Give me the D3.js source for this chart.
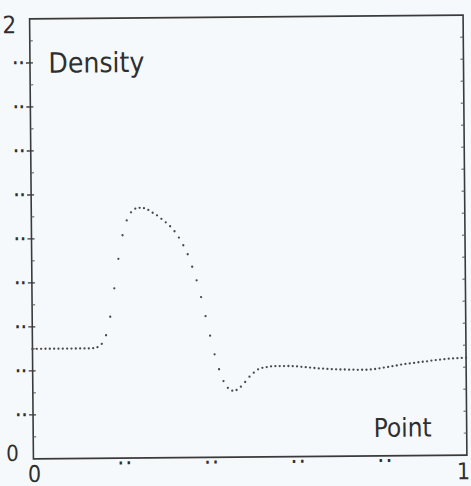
<!DOCTYPE html>
<html>
<head>
<meta charset="utf-8">
<script src="https://cdn.jsdelivr.net/npm/d3@7"></script>
<style>
  html, body { margin: 0; padding: 0; background: #f6f9fb; }
  svg { display: block; }
  text { font-family: 'DejaVu Sans Condensed', 'DejaVu Sans', sans-serif; font-stretch: condensed; fill: #2f2f2f; }
</style>
</head>
<body>
<svg id="chart" width="471" height="486"></svg>
<script>
// ---- data ----
const points = d3.range(0, 101).map(i => i / 100); // x positions 0..1 step 0.01
const density = [
  0.500, 0.500, 0.500, 0.500, 0.500, 0.500, 0.500, 0.500, 0.500, 0.500,
  0.500, 0.500, 0.500, 0.500, 0.501, 0.505, 0.520, 0.559, 0.643, 0.772,
  0.906, 1.013, 1.080, 1.117, 1.133, 1.137, 1.135, 1.127, 1.114, 1.102,
  1.086, 1.070, 1.052, 1.029, 1.000, 0.965, 0.924, 0.867, 0.805, 0.729,
  0.642, 0.553, 0.468, 0.400, 0.346, 0.315, 0.302, 0.305, 0.320, 0.341,
  0.365, 0.383, 0.398, 0.405, 0.408, 0.411, 0.412, 0.412, 0.412, 0.412,
  0.411, 0.410, 0.408, 0.406, 0.404, 0.402, 0.400, 0.399, 0.397, 0.396,
  0.395, 0.394, 0.394, 0.393, 0.393, 0.392, 0.392, 0.392, 0.393, 0.395,
  0.398, 0.401, 0.404, 0.407, 0.410, 0.414, 0.417, 0.419, 0.421, 0.424,
  0.426, 0.428, 0.431, 0.433, 0.435, 0.437, 0.439, 0.440, 0.441, 0.442,
  0.443
];
const yMajorTicks = [0.2, 0.4, 0.6, 0.8, 1.0, 1.2, 1.4, 1.6, 1.8];
const yMinorTicks = [0.1, 0.3, 0.5, 0.7, 0.9, 1.1, 1.3, 1.5, 1.7, 1.9];
const xMajorTicks = [0.2, 0.4, 0.6, 0.8];
const tickLabel = "··";          // the scanned tick labels read only as dots
const yEndLabels = ["0", "2"];
const xEndLabels = ["0", "1"];
const yTitle = "Density";
const xTitle = "Point";

// ---- layout ----
const L = 31.5, R = 465, T = 17, B = 457;
const svg = d3.select("#chart");
const g = svg.append("g").attr("transform", "rotate(-0.5, 248, 237)");

const x = d3.scaleLinear().domain([0, 1]).range([L, R]);
const y = d3.scaleLinear().domain([0, 2]).range([B, T]);

// frame
g.append("rect")
  .attr("x", L).attr("y", T).attr("width", R - L).attr("height", B - T)
  .attr("fill", "none").attr("stroke", "#3a3a3a").attr("stroke-width", 1.6);

// left axis major ticks (crossing) and labels
g.selectAll(".ytick").data(yMajorTicks).join("line")
  .attr("x1", L - 4).attr("x2", L + 3)
  .attr("y1", d => y(d)).attr("y2", d => y(d))
  .attr("stroke", "#3a3a3a").attr("stroke-width", 1.4);
g.selectAll(".ylab").data(yMajorTicks).join("text")
  .attr("x", L - 5).attr("y", d => y(d) + 5)
  .attr("text-anchor", "end").attr("font-size", 15).attr("font-weight", "bold")
  .attr("letter-spacing", 1)
  .text(tickLabel);
// minor ticks (inward) on left and right
g.selectAll(".yminL").data(yMinorTicks).join("line")
  .attr("x1", L).attr("x2", L + 3)
  .attr("y1", d => y(d)).attr("y2", d => y(d))
  .attr("stroke", "#555").attr("stroke-width", 1);
g.selectAll(".yminR").data(yMajorTicks.concat(yMinorTicks)).join("line")
  .attr("x1", R - 3).attr("x2", R)
  .attr("y1", d => y(d)).attr("y2", d => y(d))
  .attr("stroke", "#555").attr("stroke-width", 1);

// bottom axis tick labels (dots just under axis)
g.selectAll(".xlab").data(xMajorTicks).join("text")
  .attr("x", d => x(d) - 2).attr("y", B + 10)
  .attr("text-anchor", "start").attr("font-size", 15).attr("font-weight", "bold")
  .attr("letter-spacing", 3)
  .text(tickLabel);

// end labels
g.append("text").attr("x", 18).attr("y", 31).attr("text-anchor", "end")
  .attr("font-size", 24).text(yEndLabels[1]);
g.append("text").attr("x", 17).attr("y", 459).attr("text-anchor", "end")
  .attr("font-size", 22).text(yEndLabels[0]);
g.append("text").attr("x", x(0) + 1).attr("y", 480).attr("text-anchor", "middle")
  .attr("font-size", 23).text(xEndLabels[0]);
g.append("text").attr("x", 468).attr("y", 481).attr("text-anchor", "end")
  .attr("font-size", 23).text(xEndLabels[1]);

// titles inside frame
g.append("text").attr("x", 50).attr("y", 71).attr("font-size", 28).text(yTitle);
g.append("text").attr("x", 372).attr("y", 438).attr("font-size", 26).text(xTitle);

// data dots
g.selectAll(".pt").data(points).join("circle")
  .attr("cx", d => x(d))
  .attr("cy", (d, i) => y(density[i]))
  .attr("r", 1.15)
  .attr("fill", "#4a4a4a");
</script>
</body>
</html>
